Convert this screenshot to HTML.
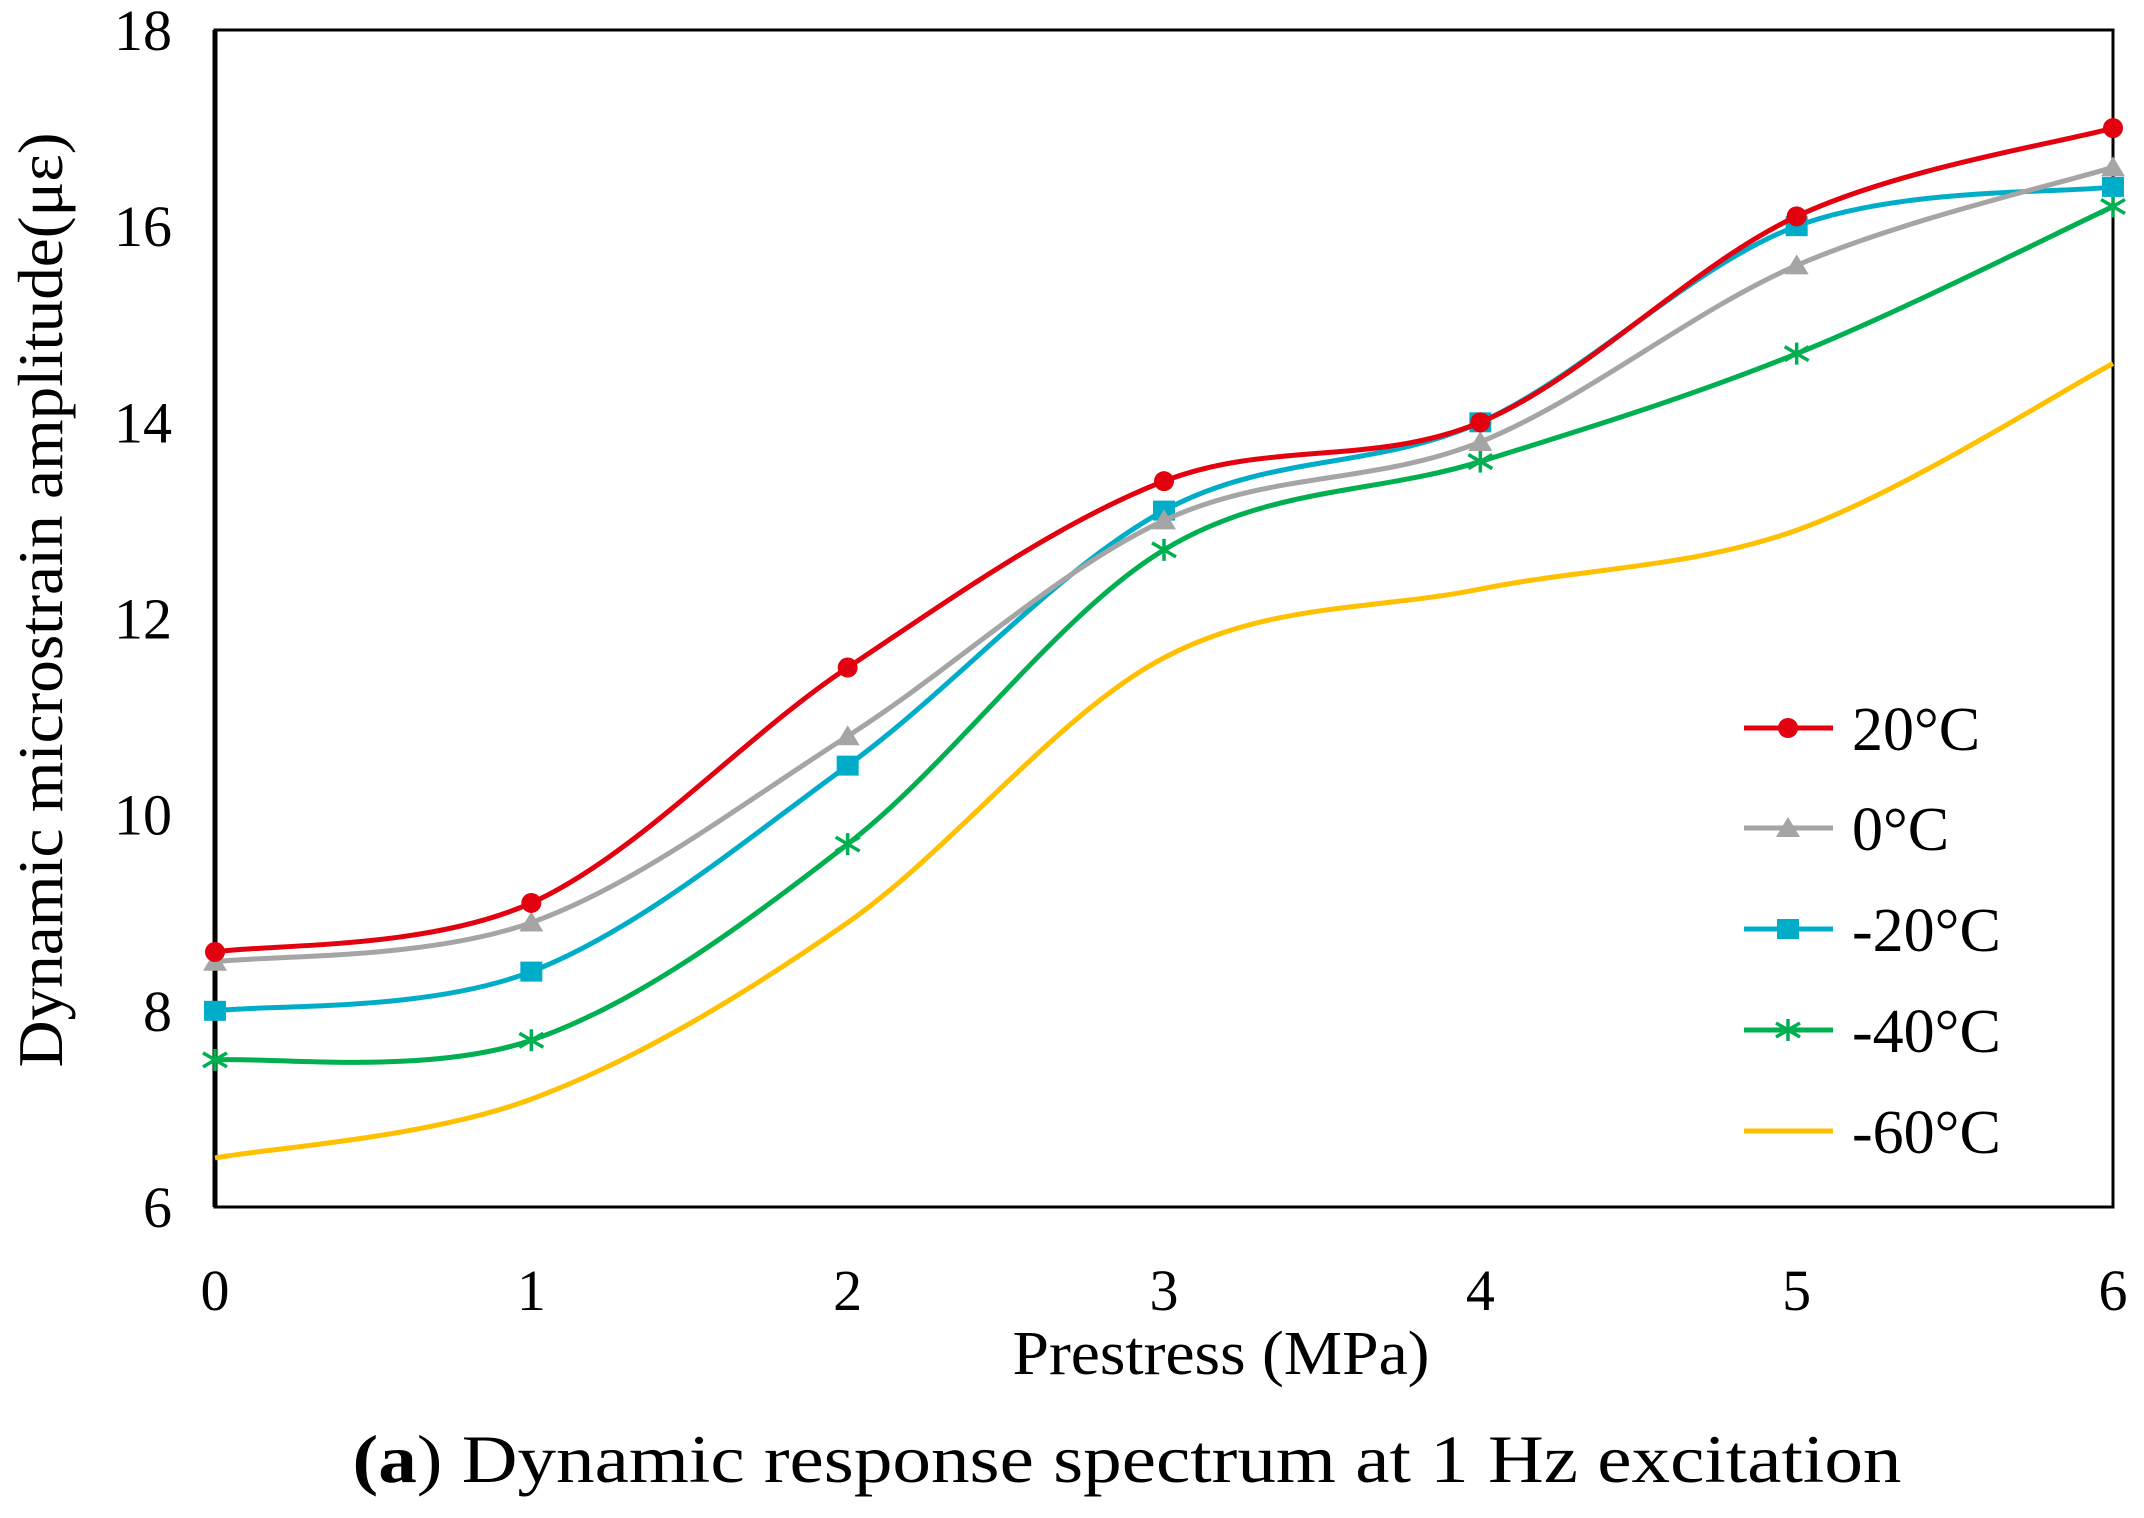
<!DOCTYPE html>
<html><head><meta charset="utf-8"><style>body{margin:0;background:#fff}svg{display:block}</style></head>
<body>
<svg id="chart" width="2144" height="1518" viewBox="0 0 2144 1518" xmlns="http://www.w3.org/2000/svg" font-family="'Liberation Serif', serif">
<rect x="0" y="0" width="2144" height="1518" fill="#fff"/>
<g id="plot"></g>
<text x="1221" y="1374" font-size="62" text-anchor="middle" textLength="417" lengthAdjust="spacingAndGlyphs">Prestress (MPa)</text>
<text transform="translate(62,600) rotate(-90)" font-size="64" text-anchor="middle" textLength="935" lengthAdjust="spacingAndGlyphs">Dynamic microstrain amplitude(με)</text>
<text x="1127" y="1482" font-size="68" text-anchor="middle" textLength="1549" lengthAdjust="spacingAndGlyphs"><tspan font-weight="bold">(a</tspan>) Dynamic response spectrum at 1 Hz excitation</text>
</svg>
<script>
const xCats = [0, 1, 2, 3, 4, 5, 6];
const yTicks = [6, 8, 10, 12, 14, 16, 18];
const seriesNames = ['20°C', '0°C', '-20°C', '-40°C', '-60°C'];
const s20 = [8.6, 9.1, 11.5, 13.4, 14.0, 16.1, 17.0];
const s0 = [8.5, 8.9, 10.8, 13.0, 13.8, 15.6, 16.6];
const sm20 = [8.0, 8.4, 10.5, 13.1, 14.0, 16.0, 16.4];
const sm40 = [7.5, 7.7, 9.7, 12.7, 13.6, 14.7, 16.2];
const sm60 = [6.5, 7.1, 8.9, 11.6, 12.3, 12.9, 14.6];

const L = 215, R = 2113, T = 30, B = 1207;
const xS = v => L + (v - 0) / 6 * (R - L);
const yS = v => B - (v - 6) / 12 * (B - T);
const NS = 'http://www.w3.org/2000/svg';
const g = document.getElementById('plot');
function mk(tag, attrs) { const e = document.createElementNS(NS, tag); for (const k in attrs) e.setAttribute(k, attrs[k]); return e; }

const frame = mk('rect', {x: L, y: T, width: R - L, height: B - T, fill: 'none', stroke: '#000', 'stroke-width': 3});


g.appendChild(frame);
const yAxis = mk('line', {x1: L, y1: T, x2: L, y2: B, stroke: '#000', 'stroke-width': 5});


g.appendChild(yAxis);

yTicks.forEach(v => {
  const t = mk('text', {x: 172, y: yS(v) + 20, 'font-size': 58, 'text-anchor': 'end'});
  t.textContent = v;
  
  
  g.appendChild(t);
});
xCats.forEach(v => {
  const t = mk('text', {x: xS(v), y: 1310, 'font-size': 58, 'text-anchor': 'middle'});
  t.textContent = v;
  
  
  g.appendChild(t);
});

const colors = ['#e3000f', '#a5a5a5', '#00adc8', '#00b050', '#ffc000'];
const markers = ['circle', 'triangle', 'square', 'star', 'none'];
const data = [s20, s0, sm20, sm40, sm60];

function pathFor(vals) {
  const p = vals.map((v, i) => [xS(xCats[i]), yS(v)]);
  let d = 'M' + p[0][0] + ',' + p[0][1];
  for (let i = 0; i < p.length - 1; i++) {
    const p0 = p[i - 1] || p[i], p1 = p[i], p2 = p[i + 1], p3 = p[i + 2] || p[i + 1];
    const c1 = [p1[0] + (p2[0] - p0[0]) / 6, p1[1] + (p2[1] - p0[1]) / 6];
    const c2 = [p2[0] - (p3[0] - p1[0]) / 6, p2[1] - (p3[1] - p1[1]) / 6];
    d += ' C' + c1 + ' ' + c2 + ' ' + p2;
  }
  return d;
}
function marker(type, x, y, c) {
  if (type === 'circle') return mk('circle', {cx: x, cy: y, r: 10, fill: c});
  if (type === 'triangle') return mk('polygon', {points: `${x},${y - 11} ${x + 12},${y + 9} ${x - 12},${y + 9}`, fill: c});
  if (type === 'square') return mk('rect', {x: x - 11, y: y - 10, width: 22, height: 20, fill: c});
  if (type === 'star') { const s = mk('path', {d: `M${x - 12},${y - 7}L${x + 12},${y + 7}M${x - 12},${y + 7}L${x + 12},${y - 7}M${x},${y - 11}L${x},${y + 11}`, stroke: c, 'stroke-width': 3.5}); return s; }
  return null;
}

for (let si = data.length - 1; si >= 0; si--) {
  const sg = mk('g', {});
  
  
  const path = mk('path', {d: pathFor(data[si]), fill: 'none', stroke: colors[si], 'stroke-width': 5});
  
  
  sg.appendChild(path);
  data[si].forEach((v, i) => {
    const m = marker(markers[si], xS(xCats[i]), yS(v), colors[si]);
    if (m) {
      
      
      sg.appendChild(m);
    }
  });
  g.appendChild(sg);
}

const legY = [728, 828, 929, 1030, 1131];
seriesNames.forEach((n, i) => {
  const lg = mk('g', {});
  
  
  lg.appendChild(mk('line', {x1: 1744, y1: legY[i], x2: 1833, y2: legY[i], stroke: colors[i], 'stroke-width': 5}));
  const m = marker(markers[i], 1788, legY[i], colors[i]);
  if (m) lg.appendChild(m);
  const t = mk('text', {x: 1852, y: legY[i] + 22, 'font-size': 62});
  t.textContent = n;
  lg.appendChild(t);
  g.appendChild(lg);
});
</script>
</body></html>
